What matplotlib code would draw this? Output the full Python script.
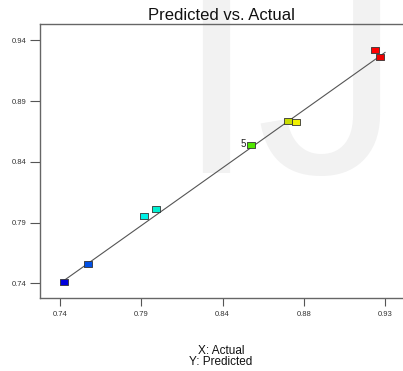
import matplotlib
matplotlib.use("Agg")
import matplotlib.pyplot as plt
import numpy as np

# ---- data ----
actual = [0.7425, 0.7564, 0.7891, 0.7961, 0.8517, 0.8735, 0.8782, 0.9242, 0.9273]
predicted = [0.7408, 0.7561, 0.7954, 0.8009, 0.8536, 0.8738, 0.8725, 0.9323, 0.9265]
point_colors = ["#0000dc", "#0050e6", "#00f0e6", "#00f0d2", "#50e600",
                "#c8dc00", "#f0f000", "#ff0000", "#f00000"]
labeled_point = 4
labeled_text = "5"
line_range = [0.7425, 0.9300]
x_ticks = [0.74, 0.7875, 0.835, 0.8825, 0.93]
x_tick_labels = ["0.74", "0.79", "0.84", "0.88", "0.93"]
y_ticks = [0.74, 0.79, 0.84, 0.89, 0.94]
y_tick_labels = ["0.74", "0.79", "0.84", "0.89", "0.94"]

W, H = 403, 371
fig = plt.figure(figsize=(W / 100, H / 100), dpi=100)
plt.rcParams['font.family'] = ['Liberation Sans', 'DejaVu Sans']

ax = fig.add_axes([40 / W, 1 - 298 / H, (403 - 40) / W, (298 - 24) / H])
ax.patch.set_alpha(0)
ax.set_xlim(0.7283, 0.9405)
ax.set_ylim(0.7279, 0.9534)

# watermark (behind everything)
ax.text(175 / W, 1 - 173 / H, "IJ", fontsize=210, color="#f2f2f2",
        ha="left", va="baseline", family="Liberation Sans", zorder=-5,
        transform=fig.transFigure, clip_on=False)

ax.plot(line_range, line_range, color="#555555", lw=0.8, zorder=2)

rect = [(-1.4, -1), (1.4, -1), (1.4, 1), (-1.4, 1), (-1.4, -1)]
for xa, yp, c in zip(actual, predicted, point_colors):
    ax.plot([xa], [yp], marker=rect, ms=5.8, mfc=c, mec="#333333", mew=0.6,
            linestyle="none", zorder=3)
ax.annotate(labeled_text, (actual[labeled_point], predicted[labeled_point]),
            xytext=(-4, 0.8), textcoords="offset points", ha="right", va="center",
            fontsize=7, color="#222222")

for s in ["right"]:
    ax.spines[s].set_visible(False)
for s in ["left", "bottom", "top"]:
    ax.spines[s].set_color("#666666")
    ax.spines[s].set_linewidth(1.0)

ax.set_xticks(x_ticks)
ax.set_xticklabels(x_tick_labels)
ax.set_yticks(y_ticks)
ax.set_yticklabels(y_tick_labels)
ax.tick_params(axis="x", length=5.5, width=0.8, color="#555555", labelsize=5.5,
               labelcolor="#333333", pad=4)
ax.tick_params(axis="y", length=7, width=0.8, color="#555555", labelsize=5.5,
               labelcolor="#333333", pad=3)

fig.text(221 / W, 1 - 15 / H, "Predicted vs. Actual", ha="center", va="center",
         fontsize=12, color="#111111")
fig.text(221 / W, 1 - 351 / H, "X: Actual", ha="center", va="center",
         fontsize=8.5, color="#111111")
fig.text(221 / W, 1 - 362 / H, "Y: Predicted", ha="center", va="center",
         fontsize=8.5, color="#111111")

fig.savefig("out.png", dpi=100)
